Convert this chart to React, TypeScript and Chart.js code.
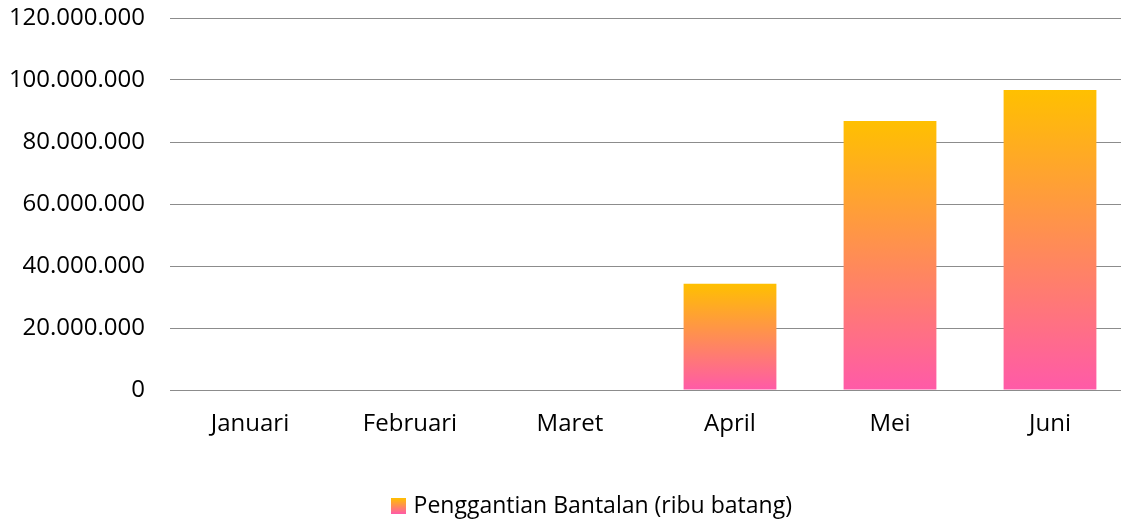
import React, { useEffect, useRef } from "react";
import { Chart, registerables } from "chart.js";

Chart.register(...registerables);

const categories = ["Januari", "Februari", "Maret", "April", "Mei", "Juni"];
const seriesLabel = "Penggantian Bantalan (ribu batang)";
const seriesValues = [0, 0, 0, 34300000, 86800000, 96800000];
const yTicks = [0, 20000000, 40000000, 60000000, 80000000, 100000000, 120000000];

const TOP_COLOR = "#FFC000";
const BOTTOM_COLOR = "#FF5AA8";
const FONT = "'Open Sans', 'Noto Sans', sans-serif";

function fmt(v: number): string {
  return Math.round(v).toString().replace(/\B(?=(\d{3})+(?!\d))/g, ".");
}

export default function App() {
  const ref = useRef<HTMLCanvasElement | null>(null);
  useEffect(() => {
    document.body.style.margin = "0";
    const canvas = ref.current;
    if (!canvas) return;

    const swatch = document.createElement("canvas");
    swatch.width = 15;
    swatch.height = 16;
    const sctx = swatch.getContext("2d")!;
    const sg = sctx.createLinearGradient(0, 0, 0, 16);
    sg.addColorStop(0, TOP_COLOR);
    sg.addColorStop(1, BOTTOM_COLOR);
    sctx.fillStyle = sg;
    sctx.fillRect(0, 0, 15, 16);

    const layoutTweak = {
      id: "layoutTweak",
      afterLayout(c: any) {
        const lg = c.legend;
        if (lg) {
          const dy = 510 - (lg.top + lg.bottom) / 2;
          const dx = 593 - (lg.left + lg.right) / 2;
          lg.top += dy;
          lg.bottom += dy;
          lg.left += dx;
          lg.right += dx;
        }
        // plot area runs slightly past the right edge of the canvas, as in the reference
        const newRight = 1130;
        const ca = c.chartArea;
        ca.right = newRight;
        ca.width = ca.right - ca.left;
        const xs = c.scales.x;
        xs.right = newRight;
        xs.width = xs.right - xs.left;
        xs.configure();
      },
    };

    const chart = new Chart(canvas, {
      type: "bar",
      data: {
        labels: categories,
        datasets: [
          {
            label: seriesLabel,
            data: seriesValues,
            barPercentage: 0.58,
            categoryPercentage: 1,
            pointStyle: swatch as any,
            backgroundColor: (ctx: any) => {
              const c = ctx.chart;
              const ys = c.scales && c.scales.y;
              if (!ys || ctx.type !== "data") return TOP_COLOR;
              const v = Number(ctx.raw);
              const top = ys.getPixelForValue(v);
              const base = ys.getPixelForValue(0);
              if (!isFinite(top) || !isFinite(base) || Math.abs(base - top) < 1) return TOP_COLOR;
              const g = c.ctx.createLinearGradient(0, top, 0, base);
              g.addColorStop(0, TOP_COLOR);
              g.addColorStop(1, BOTTOM_COLOR);
              return g;
            },
          },
        ],
      },
      plugins: [layoutTweak],
      options: {
        animation: false,
        responsive: false,
        layout: { padding: { top: 0, right: 0, left: 10, bottom: 0 } },
        plugins: {
          tooltip: { enabled: false },
          legend: {
            position: "bottom",
            labels: {
              usePointStyle: true,
              boxWidth: 8,
              boxHeight: 15,
              color: "#000",
              font: { family: FONT, size: 23 },
              padding: 2,
            },
          },
        },
        scales: {
          x: {
            grid: { display: false, drawTicks: false },
            border: { display: true, color: "#8c8c8c", width: 1 },
            ticks: { color: "#000", font: { family: FONT, size: 24 }, padding: 20, maxRotation: 0 },
            afterFit: (axis: any) => {
              axis.paddingLeft = 0;
              axis.paddingRight = 0;
            },
          },
          y: {
            min: 0,
            max: 120000000,
            afterBuildTicks: (axis: any) => {
              axis.ticks = yTicks.map((v) => ({ value: v }));
            },
            grid: { color: "#8c8c8c", drawTicks: false, lineWidth: 1 },
            border: { display: false },
            ticks: {
              color: "#000",
              font: { family: FONT, size: 24 },
              padding: 25,
              callback: (v: any) => fmt(Number(v)),
            },
            afterFit: (axis: any) => {
              axis.width = 160;
              axis.paddingTop = 18;
              axis.paddingBottom = 14;
            },
          },
        },
      },
    } as any);

    // adjust x axis height so that chart area bottom sits at the reference position
    const area = chart.chartArea;
    const xs: any = chart.scales.x;
    const extra = 390 - area.bottom;
    const xHeight = xs.height - extra;
    (chart.options.scales as any).x.afterFit = (axis: any) => {
      axis.paddingLeft = 0;
      axis.paddingRight = 0;
      axis.height = xHeight;
    };
    chart.update();

    return () => chart.destroy();
  }, []);
  return (
    <div style={{ width: 1121, height: 520 }}>
      <canvas ref={ref} width={1121} height={520} style={{ display: "block" }} />
    </div>
  );
}
